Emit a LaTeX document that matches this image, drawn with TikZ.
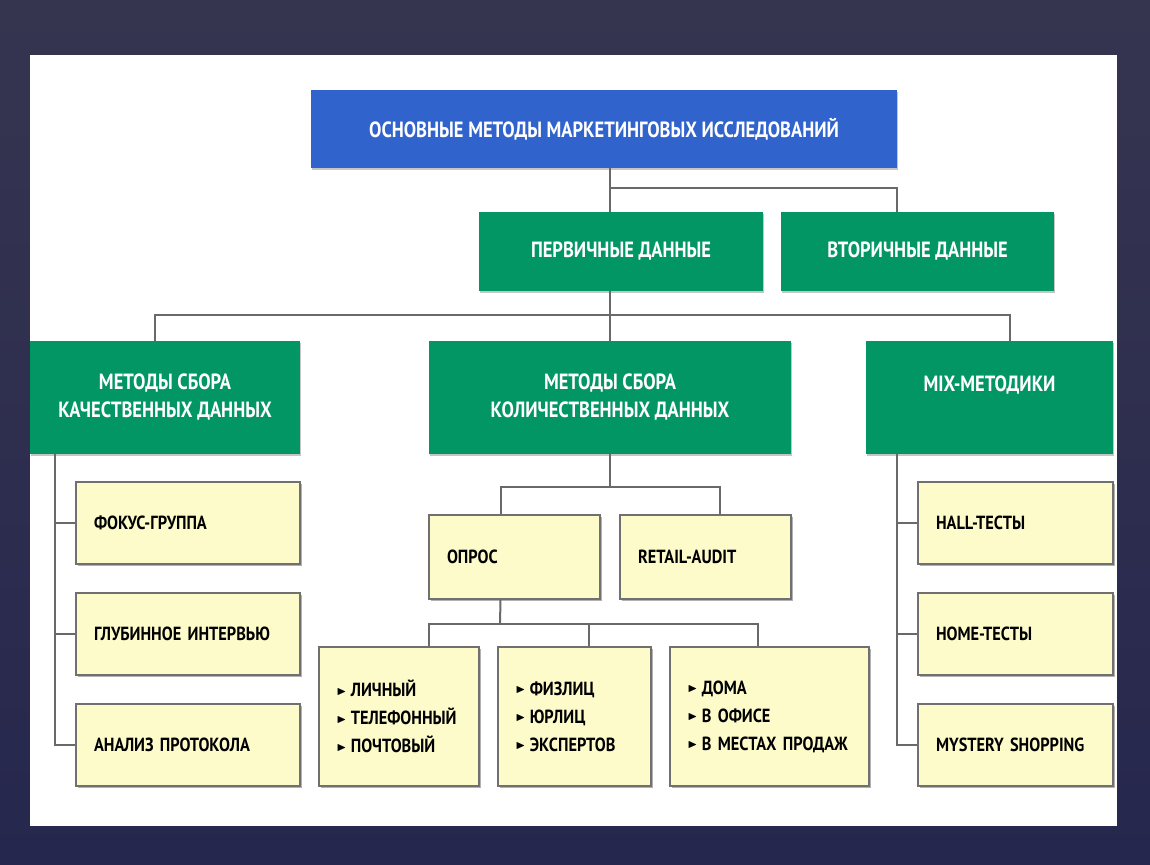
\documentclass[tikz,border=0pt]{standalone}
\usepackage{amssymb}
\usepackage{fontspec}
\setmainfont{PT Sans}[FakeStretch=0.86]
\newfontfamily\headfont{PT Sans}[FakeStretch=0.84]
\usetikzlibrary{positioning,shadows}
\definecolor{slidetop}{RGB}{54,53,80}
\definecolor{slidebot}{RGB}{38,39,78}
\definecolor{headblue}{RGB}{49,99,204}
\definecolor{boxgreen}{RGB}{3,150,101}
\definecolor{cream}{RGB}{253,251,201}
\definecolor{edge}{RGB}{112,112,112}
\definecolor{wire}{RGB}{105,105,105}
\newcommand{\itemtri}{\raisebox{1.3pt}{\tiny$\blacktriangleright$}\hspace{2pt}}

\begin{document}
\begin{tikzpicture}[x=0.5pt,y=-0.5pt,
    head/.style={rectangle,fill=headblue,text=white,inner sep=0pt,
                 font=\headfont\bfseries\fontsize{11}{14}\selectfont,
                 drop shadow={shadow xshift=0.6pt,shadow yshift=-0.8pt,opacity=0.45}},
    group/.style={head,fill=boxgreen,align=center,minimum height=56.5pt},
    item/.style={rectangle,draw=edge,fill=cream,line width=0.7pt,
                 inner xsep=9pt,inner ysep=0pt,align=left,minimum height=41pt,
                 font=\bfseries\fontsize{9.5}{14}\selectfont,
                 drop shadow={shadow xshift=1pt,shadow yshift=-1pt,opacity=0.6}},
    link/.style={draw=wire,line width=1pt}]
  \shade[top color=slidetop,bottom color=slidebot] (0,0) rectangle (1150,864);
  \fill[white] (30,55) rectangle (1117,826);

  \node[head,minimum width=293pt,minimum height=39pt] (top) at (604,129)
        {ОСНОВНЫЕ МЕТОДЫ МАРКЕТИНГОВЫХ ИССЛЕДОВАНИЙ};
  \node[group,minimum width=142pt,minimum height=39.5pt] (prim) at (621,251.5) {ПЕРВИЧНЫЕ ДАННЫЕ};
  \node[group,minimum width=136.5pt,minimum height=39.5pt] (sec) at (917.5,251.5) {ВТОРИЧНЫЕ ДАННЫЕ};

  \node[group,minimum width=135pt] (qual) at (165,397.5) {МЕТОДЫ СБОРА\\КАЧЕСТВЕННЫХ ДАННЫХ};
  \node[group,minimum width=181pt] (quant) at (610,397.5) {МЕТОДЫ СБОРА\\КОЛИЧЕСТВЕННЫХ ДАННЫХ};
  \node[group,minimum width=123.5pt] (mix) at (989.5,397.5) {MIX-МЕТОДИКИ\\\mbox{}};

  \node[item,text width=94pt] (focus) at (188,523) {ФОКУС-ГРУППА};
  \node[item,text width=94pt] (depth) at (188,634) {ГЛУБИННОЕ ИНТЕРВЬЮ};
  \node[item,text width=94pt] (proto) at (188,745) {АНАЛИЗ ПРОТОКОЛА};

  \node[item,text width=67.5pt,minimum height=42pt] (opros) at (514.5,557) {ОПРОС};
  \node[item,text width=67.5pt,minimum height=42pt] (retail) at (705.5,557) {RETAIL-AUDIT};

  \node[item,text width=63pt,inner xsep=8.5pt,minimum height=69.5pt] (ways) at (399,716.5)
        {\itemtri ЛИЧНЫЙ\\\itemtri ТЕЛЕФОННЫЙ\\\itemtri ПОЧТОВЫЙ};
  \node[item,text width=59.5pt,inner xsep=8.5pt,minimum height=69.5pt] (whom) at (574.5,716.5)
        {\itemtri ФИЗЛИЦ\\\itemtri ЮРЛИЦ\\\itemtri ЭКСПЕРТОВ};
  \node[item,text width=82.5pt,inner xsep=8.5pt,minimum height=69.5pt] (where) at (769.5,716.5)
        {\itemtri ДОМА\\\itemtri В ОФИСЕ\\\itemtri В МЕСТАХ ПРОДАЖ};

  \node[item,text width=79.5pt] (hall) at (1015.5,523) {HALL-ТЕСТЫ};
  \node[item,text width=79.5pt] (home) at (1015.5,634) {HOME-ТЕСТЫ};
  \node[item,text width=79.5pt] (mystery) at (1015.5,745) {MYSTERY SHOPPING};

  \coordinate (j1) at (610,188);
  \coordinate (j2) at (610,315);
  \coordinate (j3) at (610,487);
  \coordinate (j4) at (500,624);
  \coordinate (lrail) at ([xshift=12.5pt]qual.south west);
  \coordinate (rrail) at ([xshift=15.5pt]mix.south west);

  \draw[link] (top.south -| j1) -- (prim.north -| j1);
  \draw[link] (j1) -| (sec.north -| top.east);
  \draw[link] (prim.south -| quant.north) -- (quant.north);
  \draw[link] ([xshift=-5pt]qual.north) |- (j2) -| ([xshift=10.25pt]mix.north);

  \draw[link] (lrail) |- (proto.west);
  \draw[link] (lrail |- focus.west) -- (focus.west);
  \draw[link] (lrail |- depth.west) -- (depth.west);

  \draw[link] (quant.south) -- (j3);
  \draw[link] ([xshift=-7pt]opros.north) |- (j3) -| ([xshift=7pt]retail.north);
  \draw[link] ([xshift=-7pt]opros.south) -- (j4);
  \draw[link] ([xshift=15pt]ways.north) |- (j4) -| ([xshift=-6pt]where.north);
  \draw[link] ([xshift=7pt]whom.north) -- ([xshift=7pt]whom.north |- j4);

  \draw[link] (rrail) |- (mystery.west);
  \draw[link] (rrail |- hall.west) -- (hall.west);
  \draw[link] (rrail |- home.west) -- (home.west);
\end{tikzpicture}
\end{document}
